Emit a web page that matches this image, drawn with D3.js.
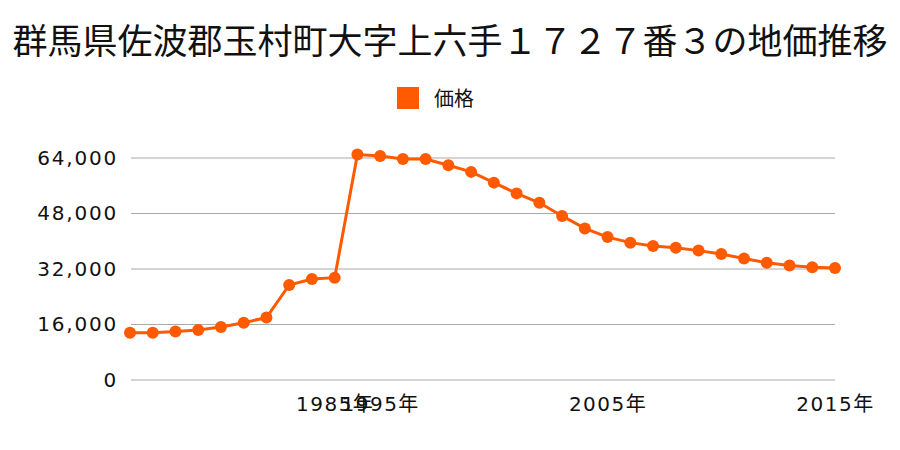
<!DOCTYPE html>
<html><head><meta charset="utf-8">
<script src="https://cdn.jsdelivr.net/npm/d3@7"></script>
<style>body{margin:0;background:#fff}</style>
</head><body>
<svg id="c" width="900" height="450"></svg>
<script>
const title = "群馬県佐波郡玉村町大字上六手１７２７番３の地価推移";
const seriesName = "価格";
const years = ["1976","1977","1978","1979","1980","1981","1982","1983","1984","1985","1994","1995","1996","1997","1998","1999","2000","2001","2002","2003","2004","2005","2006","2007","2008","2009","2010","2011","2012","2013","2014","2015"];
const prices = [13600,13600,14000,14400,15300,16500,18000,27400,29100,29500,65000,64600,63700,63700,61900,60000,56900,53800,51100,47300,43700,41200,39600,38600,38100,37300,36300,35000,33800,33000,32500,32300];
const yTicks = [0,16000,32000,48000,64000];
const xTickLabels = ["1985","1995","2005","2015"];

const color = "#ff5a00";
const font = "'Noto Sans CJK JP','Noto Sans',sans-serif";
const numFont = "'DejaVu Sans','Noto Sans CJK JP',sans-serif";
const svg = d3.select("#c");
const x = d3.scalePoint().domain(years).range([130,835]);
const y = d3.scaleLinear().domain([0,64000]).range([380,158]);

svg.append("text").attr("x",450).attr("y",54).attr("text-anchor","middle")
  .attr("font-family",font).attr("font-size",35).attr("fill","#111").text(title);

// legend
svg.append("rect").attr("x",397).attr("y",87).attr("width",22).attr("height",22).attr("fill",color);
svg.append("text").attr("x",434).attr("y",106).attr("font-family",font).attr("font-size",20).attr("fill","#111").text(seriesName);

// grid
svg.append("g").selectAll("line").data(yTicks).join("line")
  .attr("x1",131).attr("x2",835).attr("y1",d=>y(d)).attr("y2",d=>y(d))
  .attr("stroke","#aaa").attr("stroke-width",1.2);

const yAxis = svg.append("g").attr("transform","translate(118,0)")
  .call(d3.axisLeft(y).tickValues(yTicks).tickSize(0).tickPadding(0).tickFormat(d3.format(",")));
yAxis.select(".domain").remove();
yAxis.selectAll("text").attr("font-family",numFont).attr("font-size",20).attr("letter-spacing",1.8).attr("fill","#111");

const xAxis = svg.append("g").attr("transform","translate(0,393)")
  .call(d3.axisBottom(x).tickValues(xTickLabels).tickSize(0).tickPadding(0).tickFormat(d=>d+"年"));
xAxis.select(".domain").remove();
xAxis.selectAll("text").attr("font-family",numFont).attr("font-size",20).attr("letter-spacing",1.5).attr("fill","#111").attr("dy","0.9em");

const data = years.map((yr,i)=>({yr, v:prices[i]}));
svg.append("path").datum(data)
  .attr("d", d3.line().x(d=>x(d.yr)).y(d=>y(d.v)))
  .attr("fill","none").attr("stroke",color).attr("stroke-width",3);
svg.append("g").selectAll("circle").data(data).join("circle")
  .attr("cx",d=>x(d.yr)).attr("cy",d=>y(d.v)).attr("r",6).attr("fill",color);
</script>
</body></html>
